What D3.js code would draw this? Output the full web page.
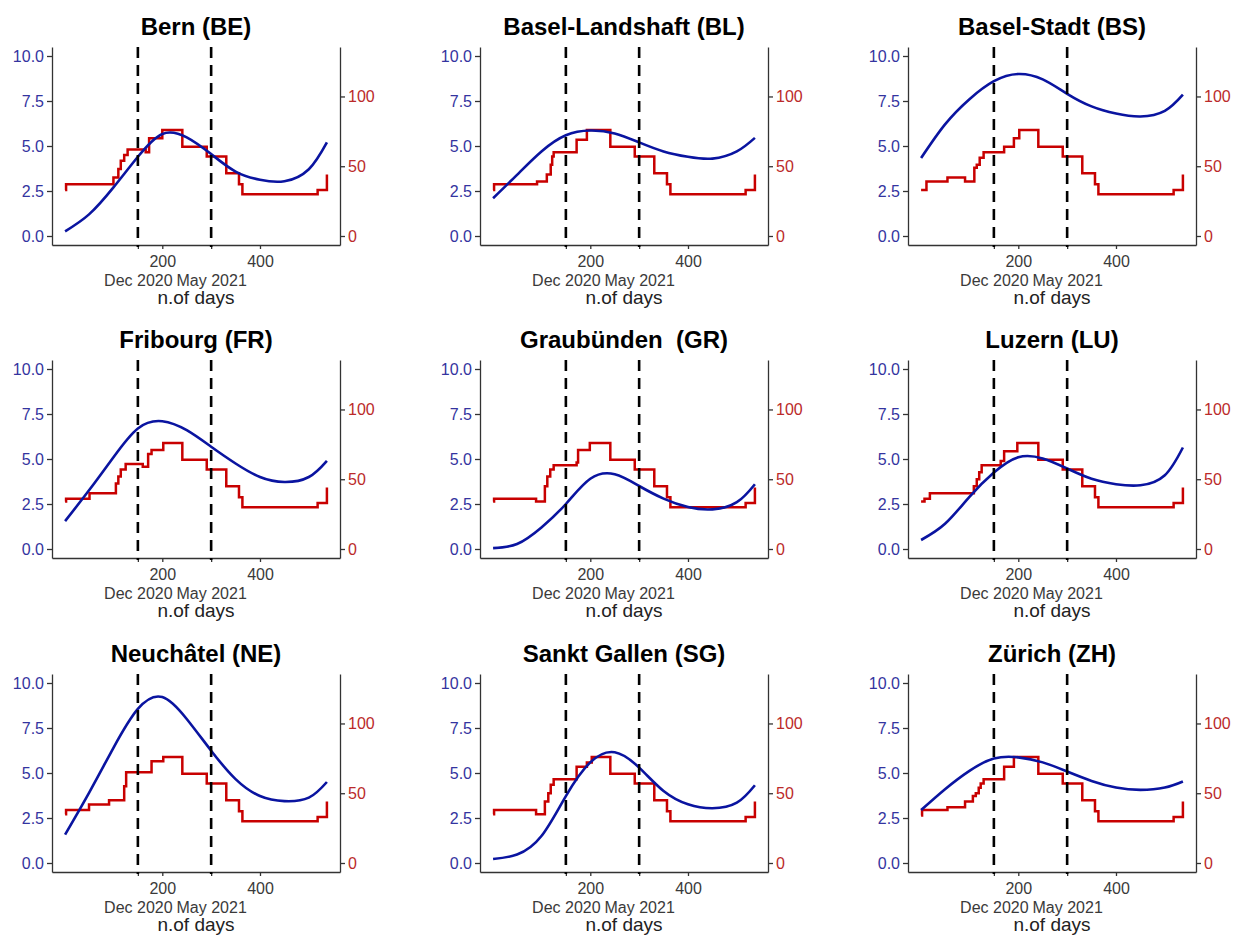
<!DOCTYPE html>
<html>
<head>
<meta charset="utf-8">
<style>
    body { margin: 0; background: #ffffff; }
    svg { font-family: 'Liberation Sans', Arial, sans-serif; }
    .title { font-size: 24px; font-weight: bold; fill: #000; white-space: pre; }
    .axis path, .axis line { stroke: #333; stroke-width: 1.3px; }
    .left .tick text { fill: #3434a0; font-size: 16px; }
    .right .tick text { fill: #bb2a2a; font-size: 16px; }
    .bottom .tick text { fill: #3a3a3a; font-size: 16px; }
    .xlab { font-size: 19px; fill: #222; }
</style>
</head>
<body>
<svg width="1234" height="936"></svg>
<script src="https://d3js.org/d3.v7.min.js"></script>
<script>
    // panels, in reading order
    const titles = ["Bern (BE)", "Basel-Landshaft (BL)", "Basel-Stadt (BS)",
        "Fribourg (FR)", "Graubünden  (GR)", "Luzern (LU)",
        "Neuchâtel (NE)", "Sankt Gallen (SG)", "Zürich (ZH)"]

    // blue curve (left axis), read at these days
    const blueDays = [1, 50, 100, 150, 200, 250, 300, 350, 400, 450, 500, 537]
    const blueBE = [0.26, 1.2, 2.7, 4.4, 5.67, 5.48, 4.55, 3.58, 3.12, 3.04, 3.71, 5.2]
    const blueBL = [2.1, 3.4, 4.7, 5.6, 5.86, 5.7, 5.2, 4.7, 4.4, 4.3, 4.7, 5.45]
    const blueBS = [4.33, 6.2, 7.6, 8.6, 9.0, 8.7, 7.9, 7.2, 6.8, 6.64, 6.95, 7.85]
    const blueFR = [1.55, 3.26, 5.1, 6.7, 7.1, 6.6, 5.68, 4.75, 4.0, 3.72, 4.0, 4.9]
    const blueGR = [0.05, 0.28, 1.2, 2.5, 3.9, 4.15, 3.5, 2.8, 2.33, 2.2, 2.6, 3.6]
    const blueLU = [0.5, 1.4, 2.9, 4.25, 5.1, 5.03, 4.47, 3.9, 3.6, 3.54, 4.1, 5.64]
    const blueNE = [1.58, 3.9, 6.4, 8.56, 9.22, 8.0, 6.24, 4.66, 3.72, 3.44, 3.63, 4.5]
    const blueSG = [0.22, 0.47, 1.5, 3.72, 5.59, 6.15, 5.3, 4.0, 3.26, 3.04, 3.35, 4.32]
    const blueZH = [2.94, 4.1, 5.12, 5.8, 5.87, 5.59, 5.08, 4.56, 4.19, 4.06, 4.19, 4.53]

    // red step line (right axis): [day, level] per canton, then the shared tail
    const stepsBE = [[1, 33], [3, 37], [100, 42], [110, 48], [115, 54], [122, 58], [129, 62], [166, 60], [173, 70], [200, 76]]
    const stepsBL = [[1, 33], [3, 37], [91, 39], [111, 44], [119, 51], [122, 57], [125, 60], [172, 69], [193, 76]]
    const stepsBS = [[1, 33], [12, 39], [55, 42], [91, 39], [110, 49], [115, 51], [121, 56], [129, 60], [171, 64], [191, 70], [202, 76]]
    const stepsFR = [[1, 34], [3, 36], [51, 40], [105, 47], [110, 52], [115, 57], [125, 61], [160, 59], [171, 68], [178, 71], [202, 76]]
    const stepsGR = [[1, 34], [3, 36], [89, 34], [107, 45], [112, 52], [118, 57], [125, 60], [172, 62], [175, 71], [199, 76]]
    const stepsLU = [[1, 34], [8, 36], [19, 40], [109, 45], [115, 50], [120, 55], [125, 60], [164, 63], [171, 70], [198, 76]]
    const stepsNE = [[1, 35], [3, 38], [50, 42], [91, 45], [122, 55], [126, 65], [178, 73], [202, 76]]
    const stepsSG = [[1, 35], [3, 38], [89, 35], [107, 44], [114, 50], [119, 56], [125, 60], [172, 69], [193, 72], [203, 76]]
    const stepsZH = [[1, 34], [3, 38], [55, 40], [91, 44], [107, 48], [113, 50], [119, 54], [123, 57], [129, 60], [171, 69], [191, 76]]
    const stepsTail = [[241, 64], [291, 57], [331, 45], [357, 37], [364, 30], [518, 33], [537, 44]]

    // axis ticks
    const leftTicks = [0, 2.5, 5, 7.5, 10]
    const rightTicks = [0, 50, 100]
    const xTicks = [150, 200, 300, 400]
    const xTickLabels = ["Dec 2020", "200", "May 2021", "400"]
    const vlines = [150, 300]

    const blues = [blueBE, blueBL, blueBS, blueFR, blueGR, blueLU, blueNE, blueSG, blueZH]
    const steps = [stepsBE, stepsBL, stepsBS, stepsFR, stepsGR, stepsLU, stepsNE, stepsSG, stepsZH]

    let svg = d3.select("svg")

    let panelW = 288
    let panelH = 198
    let colX = [52, 480, 908]
    let rowY = [47, 360, 674]
    let k = 12.9 // right axis = left axis * k

    let xPad = (537 - 1) * 0.05
    let x = d3.scaleLinear().domain([1 - xPad, 537 + xPad]).range([0, panelW])
    let yL = d3.scaleLinear().domain([-0.5, 10.5]).range([panelH, 0])
    let yR = d3.scaleLinear().domain([-0.5 * k, 10.5 * k]).range([panelH, 0])

    let blueLine = d3.line()
        .curve(d3.curveNatural)
        .x(d => x(d[0]))
        .y(d => yL(d[1]))

    let redLine = d3.line()
        .curve(d3.curveStepAfter)
        .x(d => x(d[0]))
        .y(d => yR(d[1]))

    titles.forEach(function (title, i) {
        let g = svg.append("g")
            .attr("transform", `translate(${colX[i % 3]},${rowY[Math.floor(i / 3)]})`)

        g.append("text")
            .attr("class", "title")
            .attr("x", panelW / 2)
            .attr("y", -12)
            .attr("text-anchor", "middle")
            .text(title)

        g.append("g")
            .attr("class", "axis left")
            .call(d3.axisLeft(yL).tickValues(leftTicks).tickFormat(d3.format(".1f"))
                .tickSize(5).tickSizeOuter(0).tickPadding(3))

        g.append("g")
            .attr("class", "axis right")
            .attr("transform", `translate(${panelW},0)`)
            .call(d3.axisRight(yR).tickValues(rightTicks)
                .tickSize(5).tickSizeOuter(0).tickPadding(3))

        let xAxis = g.append("g")
            .attr("class", "axis bottom")
            .attr("transform", `translate(0,${panelH})`)
            .call(d3.axisBottom(x).tickValues(xTicks)
                .tickFormat((d, j) => xTickLabels[j])
                .tickSize(4).tickSizeOuter(0))

        // date labels sit on a second line under the day numbers
        xAxis.selectAll(".tick text")
            .attr("dy", 0)
            .attr("y", d => vlines.includes(d) ? 41 : 22)

        g.append("text")
            .attr("class", "xlab")
            .attr("x", panelW / 2)
            .attr("y", panelH + 59)
            .attr("text-anchor", "middle")
            .text("n.of days")

        g.append("path")
            .datum(steps[i].concat(stepsTail))
            .attr("d", redLine)
            .style("fill", "none")
            .style("stroke", "#c80000")
            .style("stroke-width", "2.5px")

        g.append("path")
            .datum(blueDays.map((d, j) => [d, blues[i][j]]))
            .attr("d", blueLine)
            .style("fill", "none")
            .style("stroke", "#0a14a0")
            .style("stroke-width", "2.6px")

        g.selectAll(".vline")
            .data(vlines)
            .join("line")
            .attr("class", "vline")
            .attr("x1", d => x(d))
            .attr("x2", d => x(d))
            .attr("y1", 0)
            .attr("y2", panelH + 2)
            .style("stroke", "#000")
            .style("stroke-width", "2.6px")
            .style("stroke-dasharray", "11,7")
    })
</script>
</body>
</html>
